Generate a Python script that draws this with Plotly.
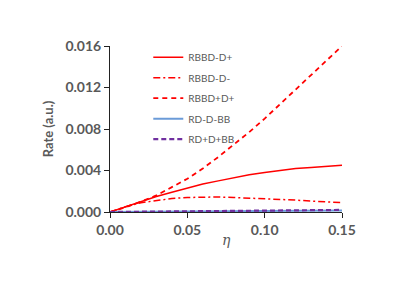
import plotly.graph_objects as go

eta = [0.00, 0.01, 0.02, 0.03, 0.04, 0.05, 0.06, 0.07, 0.08, 0.09, 0.10, 0.11, 0.12, 0.13, 0.14, 0.15]

rbbd_mp = [0, 0.0005, 0.0010, 0.0015, 0.0019, 0.0023, 0.0027, 0.0030, 0.0033, 0.0036,
           0.0038, 0.0040, 0.0042, 0.0043, 0.0044, 0.0045]
rbbd_mm = [0, 0.0005, 0.0009, 0.0011, 0.0013, 0.0014, 0.00145, 0.00145, 0.0014, 0.00135,
           0.0013, 0.0012, 0.00115, 0.00105, 0.0010, 0.0009]
rbbd_pp = [0, 0.00045, 0.0010, 0.0016, 0.0024, 0.0032, 0.0042, 0.0053, 0.0065, 0.0077,
           0.0090, 0.0104, 0.0118, 0.0132, 0.0146, 0.0160]
rd_mbb = [0, 0.00001, 0.00002, 0.00003, 0.00004, 0.00005, 0.00006, 0.00007, 0.00008, 0.00009,
          0.00010, 0.00011, 0.00012, 0.00013, 0.00014, 0.00015]
rd_pbb = [0, 0.00001, 0.00002, 0.00004, 0.00005, 0.00006, 0.00008, 0.00009, 0.00010, 0.00012,
          0.00013, 0.00014, 0.00016, 0.00017, 0.00018, 0.00020]

names = ["RBBD-D+", "RBBD-D-", "RBBD+D+", "RD-D-BB", "RD+D+BB"]

fig = go.Figure()
fig.add_trace(go.Scatter(x=eta, y=rbbd_mp, name=names[0], mode="lines", legendgroup="a",
                         line=dict(color="#FF0000", width=1.5)))
fig.add_trace(go.Scatter(x=eta, y=rbbd_mm, name=names[1], mode="lines", legendgroup="b",
                         line=dict(color="#FF0000", width=1.5, dash="7px,3px,2px,3px")))
fig.add_trace(go.Scatter(x=eta, y=rbbd_pp, name=names[2], mode="lines", legendgroup="c",
                         line=dict(color="#FF0000", width=1.8, dash="5px,4px")))
fig.add_trace(go.Scatter(x=eta, y=rd_mbb, name=names[3], mode="lines", legendgroup="d",
                         line=dict(color="#6B9BD8", width=2)))
fig.add_trace(go.Scatter(x=eta, y=rd_pbb, name=names[4], mode="lines", legendgroup="e",
                         line=dict(color="#7030A0", width=2.2, dash="5px,3px")))

tickfont = dict(family="Lato", size=14, color="#595959", weight="bold")

fig.update_layout(
    width=415, height=294,
    margin=dict(l=102, r=81, t=38, b=90),
    paper_bgcolor="white", plot_bgcolor="white",
    showlegend=True,
    legend=dict(x=0.165, y=1.02, xanchor="left", yanchor="top",
                font=dict(family="Lato", size=10, color="#595959"),
                bgcolor="rgba(0,0,0,0)", itemwidth=30, tracegroupgap=1.5),
    xaxis=dict(range=[0, 0.15], dtick=0.05, tickformat=".2f", automargin=False,
               showline=True, linecolor="#222222", linewidth=1,
               ticks="outside", ticklen=5, tickcolor="#222222",
               showgrid=False, zeroline=False, tickfont=tickfont),
    yaxis=dict(range=[0, 0.016], dtick=0.004, tickformat=".3f", automargin=False,
               showline=True, linecolor="#222222", linewidth=1,
               ticks="outside", ticklen=5, tickcolor="#222222",
               showgrid=False, zeroline=False, tickfont=tickfont,
               title=dict(text="Rate (a.u.)", standoff=8,
                          font=dict(family="Lato", size=13, color="#595959", weight="bold"))),
)

fig.add_annotation(x=0.075, y=-0.17, xref="x", yref="paper", text="<i>η</i>",
                   showarrow=False, yanchor="middle",
                   font=dict(family="DejaVu Serif", size=14, color="#595959"))

fig.write_html("out.html")
